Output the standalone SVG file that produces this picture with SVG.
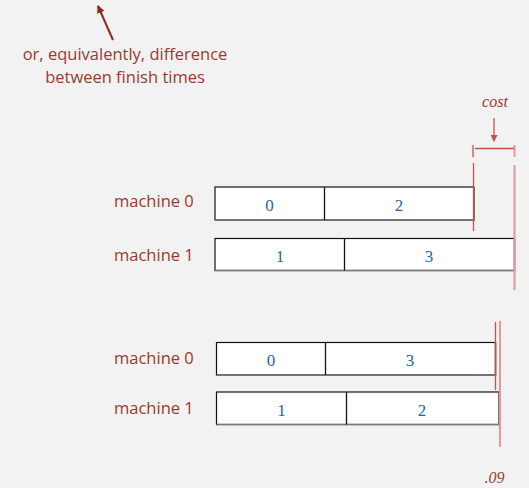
<svg xmlns="http://www.w3.org/2000/svg" width="529" height="488" viewBox="0 0 529 488">
<defs>
<style>
.lbl{font-family:"Open Sans","Noto Sans",sans-serif;font-size:16.5px;fill:#9b3a2f}
.note{font-family:"Open Sans","Noto Sans",sans-serif;font-size:16.5px;fill:#9b3a2f;text-anchor:middle}
.num{font-family:"Liberation Serif",serif;font-size:17px;fill:#2466a3;text-anchor:middle}
.it{font-family:"Liberation Serif",serif;font-style:italic;font-size:16px;fill:#9b3a2f;text-anchor:middle}
.box{fill:#ffffff;stroke:#111;stroke-width:1.2}
.shade{fill:none;stroke:#777;stroke-width:1.6}
.div{stroke:#111;stroke-width:1.3}
.red{stroke:#c8504a;stroke-width:1.3;fill:none}
.pink{stroke:#e09a98;stroke-width:2;fill:none}
</style>
<marker id="ah" markerWidth="8" markerHeight="8" refX="7" refY="4" orient="auto" markerUnits="userSpaceOnUse">
<path d="M0,0 L8,4 L0,8 z" fill="#8e2c22"/>
</marker>
<marker id="ah2" markerWidth="7" markerHeight="7" refX="6" refY="3.5" orient="auto" markerUnits="userSpaceOnUse">
<path d="M0,0 L7,3.5 L0,7 z" fill="#c8504a"/>
</marker>
</defs>
<rect width="529" height="488" fill="#f2f2f2"/>

<g id="annotation">
<line x1="113" y1="40" x2="98" y2="6" stroke="#8e2c22" stroke-width="2" marker-end="url(#ah)"/>
<text class="note" x="125" y="60">or, equivalently, difference</text>
<text class="note" x="125" y="83">between finish times</text>
</g>

<g id="top-m0">
<text class="lbl" x="114" y="207">machine 0</text>
<rect class="box" x="215" y="187" width="259" height="33"/>
<polyline class="shade" points="215,220 474,220 474,187"/>
<line class="div" x1="324.5" y1="187" x2="324.5" y2="220"/>
<text class="num" x="269.5" y="211">0</text>
<text class="num" x="399" y="211">2</text>
</g>

<g id="top-m1">
<text class="lbl" x="114" y="261">machine 1</text>
<rect class="box" x="215" y="238.5" width="299.5" height="32"/>
<polyline class="shade" points="215,270.5 514.5,270.5 514.5,238.5"/>
<line class="div" x1="344.5" y1="238.5" x2="344.5" y2="270.5"/>
<text class="num" x="280" y="262">1</text>
<text class="num" x="429" y="262">3</text>
</g>

<g id="bot-m0">
<text class="lbl" x="114" y="364">machine 0</text>
<rect class="box" x="216.5" y="342.5" width="279" height="32.5"/>
<polyline class="shade" points="216.5,375 495.5,375 495.5,342.5"/>
<line class="div" x1="325.5" y1="342.5" x2="325.5" y2="375"/>
<text class="num" x="271" y="366">0</text>
<text class="num" x="410" y="366">3</text>
</g>

<g id="bot-m1">
<text class="lbl" x="114" y="414">machine 1</text>
<rect class="box" x="216.5" y="392" width="282.5" height="32.5"/>
<polyline class="shade" points="216.5,424.5 499,424.5 499,392"/>
<line class="div" x1="346.5" y1="392" x2="346.5" y2="424.5"/>
<text class="num" x="281.5" y="416">1</text>
<text class="num" x="422" y="416">2</text>
</g>

<g id="connectors">
<line class="red" x1="473.5" y1="163" x2="473.5" y2="231"/>
<line class="pink" x1="514.5" y1="165" x2="514.5" y2="290"/>
<line class="red" x1="473" y1="145" x2="473" y2="157"/>
<line class="pink" x1="514.5" y1="145" x2="514.5" y2="157"/>
<line class="red" x1="475" y1="148.5" x2="514" y2="148.5"/>
<line class="red" x1="494" y1="118" x2="494" y2="141" marker-end="url(#ah2)"/>
<line class="red" x1="495.5" y1="322" x2="495.5" y2="390"/>
<line class="pink" x1="500" y1="321" x2="500" y2="447"/>
</g>

<g id="labels">
<text class="it" x="495" y="107">cost</text>
<text class="it" x="494.5" y="483">.09</text>
</g>
</svg>
